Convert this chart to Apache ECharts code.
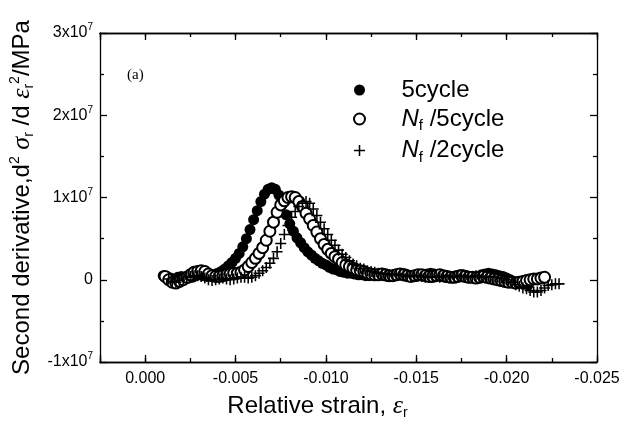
<!DOCTYPE html>
<html>
<head>
<meta charset="utf-8">
<script src="https://cdn.jsdelivr.net/npm/echarts@6/dist/echarts.min.js"></script>
<style>
  html, body { margin: 0; padding: 0; background: #fff; }
  #chart { width: 632px; height: 425px; }
</style>
</head>
<body>
<div id="chart"></div>
<script>
// [relative strain, second derivative in 1e6 MPa]
const fiveCycle = [
  [-0.0010, 0.5], [-0.0012, 0.4], [-0.0014, 0.2], [-0.0016, 0.1], [-0.0018, 0.3], [-0.0020, 0.4],
  [-0.0022, 0.3], [-0.0024, 0.2], [-0.0026, 0.3], [-0.0028, 0.5], [-0.0030, 0.6], [-0.0032, 0.5],
  [-0.0034, 0.4], [-0.0036, 0.5], [-0.0038, 0.6], [-0.0040, 0.8], [-0.0042, 1.0], [-0.0044, 1.3],
  [-0.0046, 1.7], [-0.0048, 2.1], [-0.0050, 2.6], [-0.0052, 3.2], [-0.0054, 4.0], [-0.0056, 5.0],
  [-0.0058, 6.1], [-0.0060, 7.3], [-0.0062, 8.4], [-0.0064, 9.5], [-0.0066, 10.4], [-0.0068, 11.0],
  [-0.0070, 11.2], [-0.0072, 11.0], [-0.0074, 10.3], [-0.0076, 9.2], [-0.0078, 7.9], [-0.0080, 6.8],
  [-0.0082, 5.9], [-0.0084, 5.1], [-0.0086, 4.5], [-0.0088, 3.9], [-0.0090, 3.4], [-0.0092, 3.0],
  [-0.0094, 2.6], [-0.0096, 2.3], [-0.0098, 2.0], [-0.0100, 1.8], [-0.0102, 1.5], [-0.0104, 1.3],
  [-0.0106, 1.2], [-0.0108, 1.0], [-0.0110, 0.9], [-0.0112, 0.8], [-0.0114, 0.8], [-0.0116, 0.7],
  [-0.0118, 0.6], [-0.0120, 0.6], [-0.0122, 0.5], [-0.0124, 0.5], [-0.0126, 0.6], [-0.0128, 0.7],
  [-0.0130, 0.6], [-0.0132, 0.5], [-0.0134, 0.4], [-0.0136, 0.5], [-0.0138, 0.6], [-0.0140, 0.7],
  [-0.0142, 0.8], [-0.0144, 0.7], [-0.0146, 0.5], [-0.0148, 0.4], [-0.0150, 0.4], [-0.0152, 0.5],
  [-0.0154, 0.6], [-0.0156, 0.7], [-0.0158, 0.8], [-0.0160, 0.7], [-0.0162, 0.6], [-0.0164, 0.4],
  [-0.0166, 0.3], [-0.0168, 0.3], [-0.0170, 0.4], [-0.0172, 0.5], [-0.0174, 0.6], [-0.0176, 0.6],
  [-0.0178, 0.5], [-0.0180, 0.4], [-0.0182, 0.3], [-0.0184, 0.4], [-0.0186, 0.6], [-0.0188, 0.7],
  [-0.0190, 0.8], [-0.0192, 0.7], [-0.0194, 0.6], [-0.0196, 0.5], [-0.0198, 0.4], [-0.0200, 0.2],
  [-0.0202, 0.0], [-0.0204, -0.2], [-0.0206, -0.3], [-0.0208, -0.4], [-0.0210, -0.5], [-0.0212, -0.6]
]
const nf5Cycle = [
  [-0.0011, 0.4], [-0.0013, 0.0], [-0.0015, -0.3], [-0.0017, -0.4], [-0.0019, -0.2], [-0.0021, 0.0],
  [-0.0023, 0.3], [-0.0025, 0.6], [-0.0027, 0.9], [-0.0029, 1.0], [-0.0031, 1.1], [-0.0033, 1.0],
  [-0.0035, 0.7], [-0.0037, 0.5], [-0.0039, 0.4], [-0.0041, 0.4], [-0.0043, 0.5], [-0.0045, 0.6],
  [-0.0047, 0.7], [-0.0049, 0.8], [-0.0051, 0.8], [-0.0053, 0.9], [-0.0055, 1.2], [-0.0057, 1.6],
  [-0.0059, 2.1], [-0.0061, 2.6], [-0.0063, 3.2], [-0.0065, 3.9], [-0.0067, 4.8], [-0.0069, 5.9],
  [-0.0071, 7.0], [-0.0073, 8.2], [-0.0075, 9.1], [-0.0077, 9.6], [-0.0079, 10.0], [-0.0081, 10.1],
  [-0.0083, 10.0], [-0.0085, 9.5], [-0.0087, 8.9], [-0.0089, 8.1], [-0.0091, 7.4], [-0.0093, 6.6],
  [-0.0095, 5.8], [-0.0097, 5.0], [-0.0099, 4.3], [-0.0101, 3.7], [-0.0103, 3.2], [-0.0105, 2.8],
  [-0.0107, 2.5], [-0.0109, 2.1], [-0.0111, 1.8], [-0.0113, 1.6], [-0.0115, 1.4], [-0.0117, 1.2],
  [-0.0119, 1.1], [-0.0121, 1.0], [-0.0123, 0.8], [-0.0125, 0.7], [-0.0127, 0.6], [-0.0129, 0.6],
  [-0.0131, 0.7], [-0.0133, 0.6], [-0.0135, 0.5], [-0.0137, 0.5], [-0.0139, 0.6], [-0.0141, 0.7],
  [-0.0143, 0.6], [-0.0145, 0.5], [-0.0147, 0.4], [-0.0149, 0.5], [-0.0151, 0.6], [-0.0153, 0.6],
  [-0.0155, 0.5], [-0.0157, 0.4], [-0.0159, 0.4], [-0.0161, 0.5], [-0.0163, 0.6], [-0.0165, 0.5],
  [-0.0167, 0.4], [-0.0169, 0.3], [-0.0171, 0.3], [-0.0173, 0.4], [-0.0175, 0.5], [-0.0177, 0.4],
  [-0.0179, 0.3], [-0.0181, 0.3], [-0.0183, 0.2], [-0.0185, 0.3], [-0.0187, 0.4], [-0.0189, 0.3],
  [-0.0191, 0.2], [-0.0193, 0.1], [-0.0195, 0.0], [-0.0197, -0.1], [-0.0199, -0.2], [-0.0201, -0.3],
  [-0.0203, -0.3], [-0.0205, -0.4], [-0.0207, -0.3], [-0.0209, -0.2], [-0.0211, -0.1], [-0.0213, 0.0],
  [-0.0215, 0.1], [-0.0217, 0.1], [-0.0219, 0.2], [-0.0221, 0.3]
]
const nf2Cycle = [
  [-0.0013, 0.1], [-0.0015, -0.2], [-0.0017, -0.3], [-0.0019, -0.1], [-0.0021, 0.1], [-0.0023, 0.3],
  [-0.0025, 0.4], [-0.0027, 0.5], [-0.0029, 0.5], [-0.0031, 0.4], [-0.0033, 0.2], [-0.0035, 0.0],
  [-0.0037, -0.1], [-0.0039, 0.0], [-0.0041, 0.1], [-0.0043, 0.2], [-0.0045, 0.1], [-0.0047, 0.0],
  [-0.0049, 0.1], [-0.0051, 0.2], [-0.0053, 0.3], [-0.0055, 0.3], [-0.0057, 0.2], [-0.0059, 0.3],
  [-0.0061, 0.5], [-0.0063, 0.8], [-0.0065, 1.1], [-0.0067, 1.5], [-0.0069, 2.0], [-0.0071, 2.6],
  [-0.0073, 3.4], [-0.0075, 4.4], [-0.0077, 5.5], [-0.0079, 6.6], [-0.0081, 7.6], [-0.0083, 8.3],
  [-0.0085, 8.9], [-0.0087, 9.3], [-0.0089, 9.5], [-0.0091, 9.3], [-0.0093, 8.6], [-0.0095, 7.8],
  [-0.0097, 7.0], [-0.0099, 6.2], [-0.0101, 5.5], [-0.0103, 4.8], [-0.0105, 4.2], [-0.0107, 3.6],
  [-0.0109, 3.1], [-0.0111, 2.7], [-0.0113, 2.3], [-0.0115, 1.9], [-0.0117, 1.7], [-0.0119, 1.4],
  [-0.0121, 1.3], [-0.0123, 1.1], [-0.0125, 1.0], [-0.0127, 0.9], [-0.0129, 0.8], [-0.0131, 0.8],
  [-0.0133, 0.7], [-0.0135, 0.6], [-0.0137, 0.6], [-0.0139, 0.7], [-0.0141, 0.6], [-0.0143, 0.5],
  [-0.0145, 0.4], [-0.0147, 0.4], [-0.0149, 0.5], [-0.0151, 0.5], [-0.0153, 0.4], [-0.0155, 0.3],
  [-0.0157, 0.3], [-0.0159, 0.4], [-0.0161, 0.4], [-0.0163, 0.3], [-0.0165, 0.4], [-0.0167, 0.5],
  [-0.0169, 0.4], [-0.0171, 0.3], [-0.0173, 0.4], [-0.0175, 0.5], [-0.0177, 0.4], [-0.0179, 0.3],
  [-0.0181, 0.4], [-0.0183, 0.5], [-0.0185, 0.4], [-0.0187, 0.3], [-0.0189, 0.4], [-0.0191, 0.4],
  [-0.0193, 0.3], [-0.0195, 0.3], [-0.0197, 0.2], [-0.0199, 0.1], [-0.0201, 0.0], [-0.0203, -0.3],
  [-0.0205, -0.6], [-0.0207, -0.8], [-0.0209, -1.0], [-0.0211, -1.1], [-0.0213, -1.3], [-0.0215, -1.5],
  [-0.0217, -1.5], [-0.0219, -1.3], [-0.0221, -1.0], [-0.0223, -0.7], [-0.0225, -0.6], [-0.0227, -0.5],
  [-0.0229, -0.5]
]
const seriesNames = ['5cycle', 'Nf /5cycle', 'Nf /2cycle']
const yUnit = 1e6
const xMin = -0.025
const xMax = 0.0025
const yMin = -1e7
const yMax = 3e7
const yStep = 1e7

const sans = 'Liberation Sans, Arial, sans-serif'
const serif = 'Liberation Serif, Times New Roman, serif'
const black = '#000'
const plusPath = 'path://M4.3,0H5.7V4.3H10V5.7H5.7V10H4.3V5.7H0V4.3H4.3Z'

const chart = echarts.init(document.getElementById('chart'))

function toValues(rows) {
  return rows.map(r => [r[0], r[1] * yUnit])
}

function xLabel(v) {
  const k = v / 0.005
  if (Math.abs(k - Math.round(k)) > 1e-6) return ''
  if (Math.abs(v) < 1e-9) return '0.000'
  return v.toFixed(3)
}

function yLabel(v) {
  if (Math.abs(v) < 1) return '0'
  return Math.round(v / 1e7) + 'x10{sup|7}'
}

function legendLabel(name) {
  if (name.indexOf('Nf') === 0) {
    return '{i|N}{sub|f}{t|' + name.slice(2) + '}'
  }
  return '{t|' + name + '}'
}

const lineStyle = { color: black, width: 1.3 }

function xAxisOf(position, interval, tickLen, withLabels) {
  return {
    type: 'value',
    position: position,
    min: xMin,
    max: xMax,
    interval: interval,
    inverse: true,
    axisLine: { show: true, onZero: false, lineStyle: lineStyle },
    axisTick: { show: true, inside: true, length: tickLen, lineStyle: lineStyle },
    axisLabel: withLabels
      ? { show: true, formatter: xLabel, color: black, fontFamily: sans, fontSize: 16, margin: 9 }
      : { show: false },
    splitLine: { show: false }
  }
}

function yAxisOf(position, withLabels) {
  return {
    type: 'value',
    position: position,
    min: yMin,
    max: yMax,
    interval: yStep,
    axisLine: { show: true, onZero: false, lineStyle: lineStyle },
    axisTick: { show: true, inside: true, length: 7, lineStyle: lineStyle },
    minorTick: { show: true, splitNumber: 2, length: 4, lineStyle: lineStyle },
    axisLabel: withLabels
      ? {
          show: true, formatter: yLabel, color: black, fontFamily: sans, fontSize: 16, margin: 7,
          rich: { sup: { fontSize: 10, fontFamily: sans, color: black, padding: [0, 0, 11, 0] } }
        }
      : { show: false },
    splitLine: { show: false }
  }
}

const nameRich = {
  t: { fontSize: 24, fontFamily: sans, color: black },
  g: { fontSize: 26, fontFamily: serif, fontStyle: 'italic', color: black },
  sub: { fontSize: 14, fontFamily: sans, color: black, padding: [14, 0, 0, 0] },
  sup: { fontSize: 14, fontFamily: sans, color: black, padding: [0, 0, 14, 0] }
}

const xAxes = [
  xAxisOf('bottom', 0.0025, 4, true),
  xAxisOf('bottom', 0.005, 7, false),
  xAxisOf('top', 0.0025, 4, false),
  xAxisOf('top', 0.005, 7, false)
]
xAxes[0].name = '{t|Relative strain, }{g|ε}{sub|r}'
xAxes[0].nameLocation = 'middle'
xAxes[0].nameGap = 30
xAxes[0].nameTextStyle = { rich: nameRich, padding: [0, 62, 0, 0] }

const yAxes = [yAxisOf('left', true), yAxisOf('right', false)]
yAxes[0].name = '{t|Second derivative,d}{sup|2}{t| }{g|σ}{sub|r}{t| /d }{g|ε}{sub|r}{sup|2}{t|/MPa}'
yAxes[0].nameLocation = 'middle'
yAxes[0].nameGap = 58
yAxes[0].nameTextStyle = { rich: nameRich }

const symbols = ['circle', 'emptyCircle', plusPath]
const allData = [fiveCycle, nf5Cycle, nf2Cycle]

chart.setOption({
  backgroundColor: '#ffffff',
  animation: false,
  title: {
    text: '(a)',
    left: 122,
    top: 63,
    textStyle: { fontFamily: serif, fontSize: 15, fontWeight: 'normal', color: black }
  },
  legend: {
    orient: 'vertical',
    left: 348,
    top: 73,
    itemWidth: 14,
    itemHeight: 11,
    itemGap: 5,
    formatter: legendLabel,
    textStyle: {
      padding: [0, 0, 0, 30],
      rich: {
        t: { fontSize: 24, fontFamily: sans, color: black, lineHeight: 30 },
        i: { fontSize: 24, fontFamily: sans, fontStyle: 'italic', color: black, lineHeight: 30 },
        sub: { fontSize: 15, fontFamily: sans, color: black, padding: [14, 0, 0, 0] }
      }
    },
    data: seriesNames
  },
  grid: { left: 100, right: 35, top: 33, bottom: 63 },
  xAxis: xAxes,
  yAxis: yAxes,
  series: seriesNames.map((name, i) => ({
    name: name,
    type: 'scatter',
    xAxisIndex: 0,
    yAxisIndex: 0,
    symbol: symbols[i],
    symbolSize: 11,
    itemStyle: i === 1
      ? { color: black, borderColor: black, borderWidth: 1.2, opacity: 1 }
      : { color: black, opacity: 1 },
    data: toValues(allData[i])
  }))
})
</script>
</body>
</html>
